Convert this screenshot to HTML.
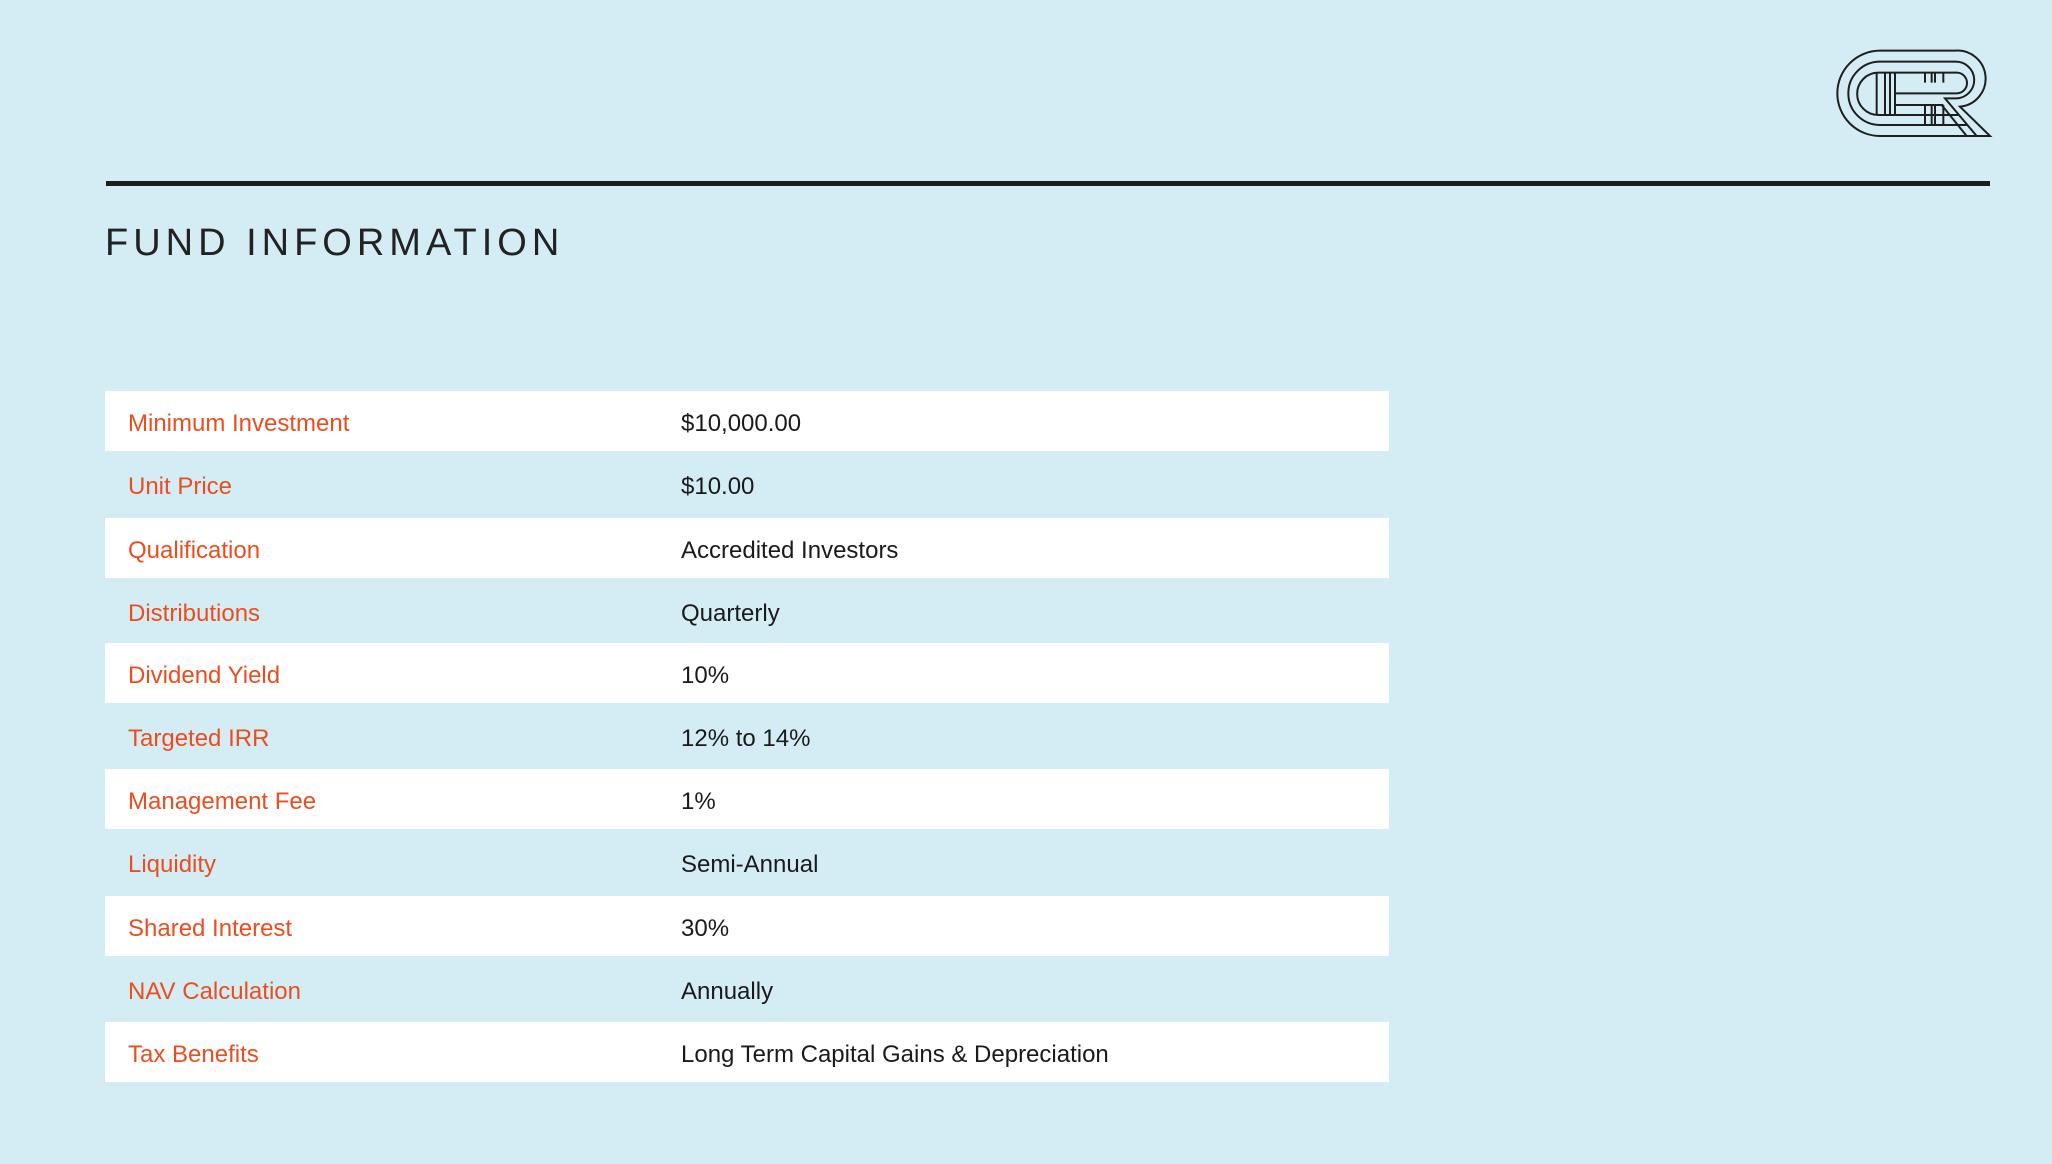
<!DOCTYPE html>
<html><head><meta charset="utf-8"><style>
body{margin:0;width:2052px;height:1164px;background:#d4edf4;position:relative;overflow:hidden;font-family:"Liberation Sans",sans-serif}
.line{position:absolute;left:106px;top:181px;width:1884px;height:5px;background:#1e1e1e}
.title{position:absolute;left:105px;top:222px;font-size:38px;letter-spacing:5px;color:#222}
.row{position:absolute;left:105px;width:1284px;height:60px;font-size:24px;line-height:66px}
.w{background:#fff}
.k{position:absolute;left:23px;color:#ec4d1f}
.v{position:absolute;left:576px;color:#1a1a1a}
</style></head><body>
<svg style="position:absolute;left:1820px;top:30px" width="200" height="120" viewBox="0 0 600 360">
<g fill="none" stroke="#1e1e1e" stroke-width="6">
<path d="M180,62 H405 A84,84 0 0 1 420,230 L510,318 H180 A128,128 0 0 1 180,62 Z"/>
<path d="M180,95 H405 A55,55 0 0 1 410,205 H375 L470,318 M440,285 H180 A95,95 0 0 1 180,95"/>
<path d="M175,128 H410 A31,31 0 0 1 410,190 H225 M175,128 A63,63 0 0 0 175,255 H415 M365,225 L440,318"/>
<path d="M170,128 V255 M195,128 V255 M210,128 V255 M225,128 V255 M315,128 V158 M335,128 V158 M345,128 V158 M370,128 V158 M315,225 V285 M335,225 V285 M345,225 V285 M370,225 V285 M225,225 H370"/>
</g></svg>
<div class="line"></div>
<div class="title">FUND INFORMATION</div>
<div class="row w" style="top:391px"><span class="k">Minimum Investment</span><span class="v">$10,000.00</span></div>
<div class="row" style="top:454px"><span class="k">Unit Price</span><span class="v">$10.00</span></div>
<div class="row w" style="top:518px"><span class="k">Qualification</span><span class="v">Accredited Investors</span></div>
<div class="row" style="top:581px"><span class="k">Distributions</span><span class="v">Quarterly</span></div>
<div class="row w" style="top:643px"><span class="k">Dividend Yield</span><span class="v">10%</span></div>
<div class="row" style="top:706px"><span class="k">Targeted IRR</span><span class="v">12% to 14%</span></div>
<div class="row w" style="top:769px"><span class="k">Management Fee</span><span class="v">1%</span></div>
<div class="row" style="top:832px"><span class="k">Liquidity</span><span class="v">Semi-Annual</span></div>
<div class="row w" style="top:896px"><span class="k">Shared Interest</span><span class="v">30%</span></div>
<div class="row" style="top:959px"><span class="k">NAV Calculation</span><span class="v">Annually</span></div>
<div class="row w" style="top:1022px"><span class="k">Tax Benefits</span><span class="v">Long Term Capital Gains &amp; Depreciation</span></div>
</body></html>
